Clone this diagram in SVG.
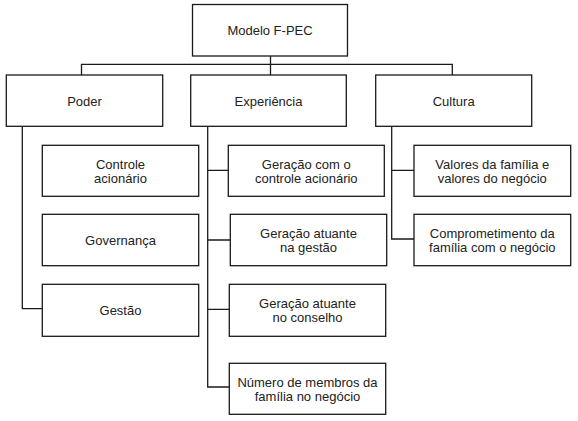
<svg xmlns="http://www.w3.org/2000/svg" width="578" height="421" viewBox="0 0 578 421">
<style>
.box{fill:#fff;stroke:#1a1a1a;stroke-width:1.3}
.ln{fill:none;stroke:#1a1a1a;stroke-width:1.3}
text{font-family:"Liberation Sans",Arial,sans-serif;font-size:13px;fill:#222;text-anchor:middle}
</style>
<rect width="578" height="421" fill="#fff"/>
<g id="connectors" class="ln">
<path d="M270.5 56 V64.3 M81.5 75 V64.3 H452.3 V75 M270.5 64.3 V75"/>
<path d="M22.3 126.3 V308.7 H42.3"/>
<path d="M207.7 126.3 V387 H229.3 M207.7 170.3 H228.3 M207.7 240 H230.3 M207.7 309.3 H229.3"/>
<path d="M391.7 126.3 V239 H414 M391.7 170.3 H414"/>
</g>
<g id="modelo"><rect class="box" x="192.5" y="4.5" width="155" height="51.5"/><text x="270" y="35">Modelo F-PEC</text></g>
<g id="poder"><rect class="box" x="6.3" y="75" width="156.4" height="51.3"/><text x="84.5" y="105.5">Poder</text></g>
<g id="experiencia"><rect class="box" x="190.7" y="75" width="155.6" height="51.3"/><text x="268.5" y="105.5">Experiência</text></g>
<g id="cultura"><rect class="box" x="375.7" y="75" width="156" height="51.3"/><text x="453.7" y="105.5">Cultura</text></g>
<g id="controle"><rect class="box" x="42.3" y="145.3" width="156.4" height="51"/><text x="120.5" y="168.8">Controle</text><text x="120.5" y="182.8">acionário</text></g>
<g id="governanca"><rect class="box" x="42.3" y="214.3" width="156.4" height="51.4"/><text x="120.5" y="244.5">Governança</text></g>
<g id="gestao"><rect class="box" x="42.3" y="284.3" width="156.4" height="52"/><text x="120.5" y="314.8">Gestão</text></g>
<g id="geracao-controle"><rect class="box" x="228.3" y="145.3" width="156" height="51"/><text x="306.3" y="168.8">Geração com o</text><text x="306.3" y="182.8">controle acionário</text></g>
<g id="geracao-gestao"><rect class="box" x="230.3" y="214.3" width="156.4" height="51.4"/><text x="308.5" y="237.8">Geração atuante</text><text x="308.5" y="251.8">na gestão</text></g>
<g id="geracao-conselho"><rect class="box" x="229.3" y="284.3" width="156.4" height="52"/><text x="307.5" y="308.3">Geração atuante</text><text x="307.5" y="322.3">no conselho</text></g>
<g id="numero"><rect class="box" x="229.3" y="363.3" width="156.4" height="51"/><text x="307.5" y="386.8">Número de membros da</text><text x="307.5" y="400.8">família no negócio</text></g>
<g id="valores"><rect class="box" x="414" y="145.3" width="156.7" height="51"/><text x="492.3" y="168.8">Valores da família e</text><text x="492.3" y="182.8">valores do negócio</text></g>
<g id="comprometimento"><rect class="box" x="414" y="214.3" width="156.7" height="51.4"/><text x="492.3" y="237.8">Comprometimento da</text><text x="492.3" y="251.8">família com o negócio</text></g>
</svg>
